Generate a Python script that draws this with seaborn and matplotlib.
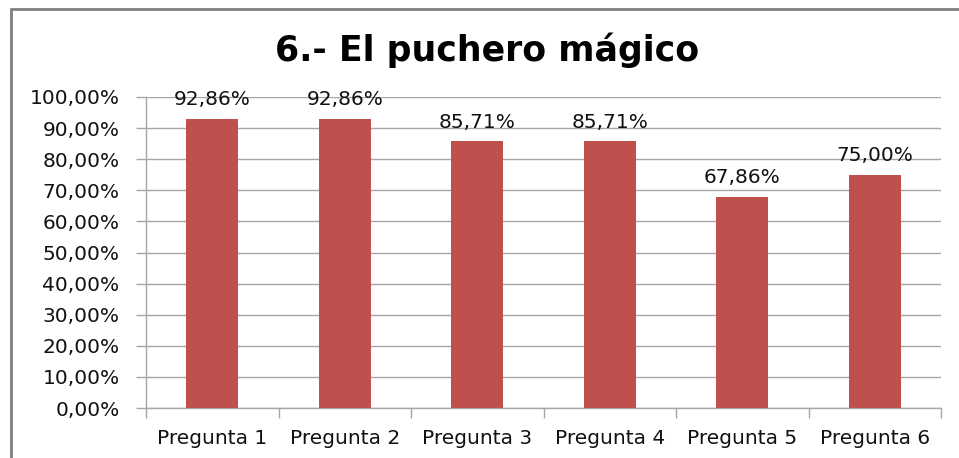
import matplotlib
matplotlib.use("Agg")
import matplotlib.pyplot as plt
import matplotlib.patches as mpatches
from matplotlib.ticker import MultipleLocator, FuncFormatter
import seaborn as sns

# Data
preguntas = ["Pregunta 1", "Pregunta 2", "Pregunta 3", "Pregunta 4", "Pregunta 5", "Pregunta 6"]
porcentajes = [92.86, 92.86, 85.71, 85.71, 67.86, 75.00]
titulo = "6.- El puchero mágico"

sns.set_style("white")
plt.rcParams['font.family'] = ['DejaVu Sans']

fig = plt.figure(figsize=(9.59, 4.58), dpi=100)
ax = fig.add_axes([146 / 959, 1 - 408 / 458, (941 - 146) / 959, (408 - 97) / 458])

sns.barplot(x=preguntas, y=porcentajes, color="#C0504D", saturation=1,
            width=0.39, linewidth=0, ax=ax, zorder=3)

def fmt(v, pos=None):
    return f"{v:.2f}".replace(".", ",") + "%"

ax.set_ylim(0, 100)
ax.set_xlim(-0.5, 5.5)
ax.yaxis.set_major_locator(MultipleLocator(10))
ax.yaxis.set_major_formatter(FuncFormatter(fmt))
ax.grid(axis="y", color="#a6a6a6", linewidth=1, zorder=0)
ax.set_axisbelow(True)

for s in ["top", "right"]:
    ax.spines[s].set_visible(False)
for s in ["left", "bottom"]:
    ax.spines[s].set_color("#a6a6a6")
    ax.spines[s].set_linewidth(1)

ax.tick_params(axis="y", length=7, color="#a6a6a6", width=1, labelsize=14.5, pad=12,
               left=True, direction="out", labelcolor="#111111")
ax.tick_params(axis="x", length=0, labelsize=14.5, pad=15, labelcolor="#111111")
ax.set_xticks(range(len(preguntas)))
ax.set_xticklabels(preguntas)
# category boundary ticks on the x axis
ax.set_xticks([i - 0.5 for i in range(len(preguntas) + 1)], minor=True)
ax.tick_params(axis="x", which="minor", length=7, color="#a6a6a6", width=1, bottom=True)
ax.set_xlabel("")
ax.set_ylabel("")

for i, v in enumerate(porcentajes):
    ax.annotate(fmt(v), (i, v), xytext=(0, 7), textcoords="offset points",
                ha="center", va="bottom", fontsize=14.5, color="#111111", zorder=4)

fig.text(487 / 959, 1 - 50 / 458, titulo, ha="center", va="center", fontsize=25,
         fontweight="bold", color="black")

# outer chart frame (cut off at right and bottom)
frame = mpatches.Rectangle((11 / 959, -0.1), 1.2, 1 - 9 / 458 + 0.1,
                           transform=fig.transFigure, fill=False,
                           edgecolor="#7f7f7f", linewidth=2, clip_on=False)
fig.patches.append(frame)

fig.savefig("out.png", dpi=100)
